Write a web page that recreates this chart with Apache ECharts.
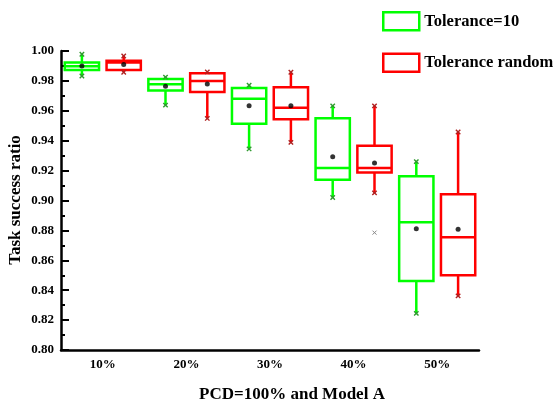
<!DOCTYPE html>
<html>
<head>
<meta charset="utf-8">
<script src="https://cdn.jsdelivr.net/npm/echarts@6/dist/echarts.min.js"></script>
<style>
  html, body { margin: 0; padding: 0; background: #fff; }
  #chart { width: 553px; height: 407px; }
</style>
</head>
<body>
<div id="chart"></div>
<script>
// Group labels on the x axis
const categories = ['10%', '20%', '30%', '40%', '50%'];

// Tolerance=10 box statistics per group
const tol10Min    = [0.9833, 0.9638, 0.9345, 0.9020, 0.8245];
const tol10Q1     = [0.9873, 0.9735, 0.9513, 0.9138, 0.8462];
const tol10Median = [0.9898, 0.9778, 0.9680, 0.9218, 0.8855];
const tol10Q3     = [0.9923, 0.9813, 0.9753, 0.9551, 0.9162];
const tol10Max    = [0.9978, 0.9825, 0.9771, 0.9633, 0.9260];
const tol10Mean   = [0.9900, 0.9765, 0.9633, 0.9293, 0.8811];

// Tolerance random box statistics per group
const tolRandMin    = [0.9858, 0.9549, 0.9389, 0.9051, 0.8362];
const tolRandQ1     = [0.9873, 0.9725, 0.9544, 0.9187, 0.8500];
const tolRandMedian = [0.9923, 0.9800, 0.9620, 0.9218, 0.8755];
const tolRandQ3     = [0.9935, 0.9851, 0.9757, 0.9367, 0.9042];
const tolRandMax    = [0.9967, 0.9860, 0.9858, 0.9633, 0.9458];
const tolRandMean   = [0.9909, 0.9780, 0.9633, 0.9251, 0.8807];

// Outliers of the random-tolerance runs: [group index, value]
const tolRandOutliers = [[3, 0.8785]];

// Y axis ticks
const yMin = 0.80, yMax = 1.00, yStep = 0.02;

const GREEN = '#00ff00';
const RED = '#ff0000';
const FONT = '"Liberation Serif", "Times New Roman", serif';

// Two slots per group: Tolerance=10 on the left, Tolerance random on the right
const slots = [];
categories.forEach(function (c) { slots.push(c + ' A'); slots.push(c + ' B'); });

function boxRows(offset, mins, q1s, meds, q3s, maxs) {
  return categories.map(function (_, i) {
    return [i * 2 + offset, mins[i], q1s[i], meds[i], q3s[i], maxs[i]];
  });
}

// Small "x" mark centred on (cx, cy)
function crossGroup(cx, cy, r, color, width) {
  return {
    type: 'group',
    children: [
      { type: 'line', shape: { x1: cx - r, y1: cy - r, x2: cx + r, y2: cy + r }, style: { stroke: color, lineWidth: width } },
      { type: 'line', shape: { x1: cx + r, y1: cy - r, x2: cx - r, y2: cy + r }, style: { stroke: color, lineWidth: width } }
    ]
  };
}

function makeBoxRenderer(color, markColor) {
  return function (params, api) {
    const x = api.value(0);
    const pMin = api.coord([x, api.value(1)]);
    const pQ1 = api.coord([x, api.value(2)]);
    const pMed = api.coord([x, api.value(3)]);
    const pQ3 = api.coord([x, api.value(4)]);
    const pMax = api.coord([x, api.value(5)]);
    const w = api.size([1, 0])[0] * 0.82;
    const cx = pMed[0];
    const lw = 2.5;
    return {
      type: 'group',
      children: [
        { type: 'line', shape: { x1: cx, y1: pQ3[1], x2: cx, y2: pMax[1] }, style: { stroke: color, lineWidth: lw } },
        { type: 'line', shape: { x1: cx, y1: pQ1[1], x2: cx, y2: pMin[1] }, style: { stroke: color, lineWidth: lw } },
        { type: 'rect', shape: { x: cx - w / 2, y: pQ3[1], width: w, height: pQ1[1] - pQ3[1] },
          style: { fill: '#fff', stroke: color, lineWidth: lw } },
        { type: 'line', shape: { x1: cx - w / 2, y1: pMed[1], x2: cx + w / 2, y2: pMed[1] }, style: { stroke: color, lineWidth: lw } },
        crossGroup(cx, pMax[1], 2.2, markColor, 1.4),
        crossGroup(cx, pMin[1], 2.2, markColor, 1.4)
      ]
    };
  };
}

const chart = echarts.init(document.getElementById('chart'), null, { renderer: 'canvas' });

chart.setOption({
  animation: false,
  backgroundColor: '#fff',
  grid: { left: 61, right: 74, top: 51, bottom: 57, containLabel: false, outerBoundsMode: 'none' },
  legend: {
    orient: 'vertical',
    left: 382,
    top: 11,
    padding: 0,
    itemWidth: 36,
    itemHeight: 18,
    itemGap: 21,
    icon: 'rect',
    textStyle: { fontFamily: FONT, fontWeight: 'bold', fontSize: 16.5, color: '#000' },
    data: [
      { name: 'Tolerance=10', itemStyle: { color: '#fff', borderColor: GREEN, borderWidth: 2.5 } },
      { name: 'Tolerance random', itemStyle: { color: '#fff', borderColor: RED, borderWidth: 2.5 } }
    ]
  },
  xAxis: [
    {
      type: 'category',
      data: slots,
      boundaryGap: true,
      axisLine: { lineStyle: { color: '#000', width: 2.5 } },
      axisTick: { inside: true, alignWithLabel: true, length: 6, lineStyle: { color: '#000', width: 2 } },
      axisLabel: { show: false },
      splitLine: { show: false }
    },
    {
      type: 'category',
      data: categories,
      position: 'bottom',
      boundaryGap: true,
      axisLine: { show: false },
      axisTick: { show: false },
      axisLabel: { margin: 8, fontFamily: FONT, fontWeight: 'bold', fontSize: 13, color: '#000' },
      splitLine: { show: false }
    }
  ],
  yAxis: {
    type: 'value',
    min: yMin,
    max: yMax,
    interval: yStep,
    axisLine: { show: true, lineStyle: { color: '#000', width: 2.5 } },
    axisTick: { show: true, inside: true, length: 8, lineStyle: { color: '#000', width: 2 } },
    minorTick: { show: true, splitNumber: 2, length: 4, lineStyle: { color: '#000', width: 2 } },
    axisLabel: {
      margin: 7,
      fontFamily: FONT, fontWeight: 'bold', fontSize: 13, color: '#000',
      formatter: function (v) { return v.toFixed(2); }
    },
    splitLine: { show: false }
  },
  graphic: [
    {
      // x axis title
      type: 'text',
      x: 292,
      y: 395,
      style: {
        text: 'PCD=100% and Model A',
        textAlign: 'center',
        textVerticalAlign: 'middle',
        font: 'bold 17px ' + FONT,
        fill: '#000'
      }
    },
    {
      // y axis title, rotated
      type: 'text',
      x: 16,
      y: 200,
      rotation: Math.PI / 2,
      style: {
        text: 'Task success ratio',
        textAlign: 'center',
        textVerticalAlign: 'middle',
        font: 'bold 17px ' + FONT,
        fill: '#000'
      }
    }
  ],
  series: [
    {
      name: 'Tolerance=10',
      type: 'custom',
      xAxisIndex: 0,
      itemStyle: { color: '#fff', borderColor: GREEN },
      renderItem: makeBoxRenderer(GREEN, '#2f9a2f'),
      encode: { x: 0, y: [1, 2, 3, 4, 5] },
      data: boxRows(0, tol10Min, tol10Q1, tol10Median, tol10Q3, tol10Max),
      z: 2
    },
    {
      name: 'Tolerance random',
      type: 'custom',
      xAxisIndex: 0,
      itemStyle: { color: '#fff', borderColor: RED },
      renderItem: makeBoxRenderer(RED, '#b02020'),
      encode: { x: 0, y: [1, 2, 3, 4, 5] },
      data: boxRows(1, tolRandMin, tolRandQ1, tolRandMedian, tolRandQ3, tolRandMax),
      z: 2
    },
    {
      name: 'Outliers',
      type: 'custom',
      xAxisIndex: 0,
      renderItem: function (params, api) {
        const p = api.coord([api.value(0), api.value(1)]);
        return crossGroup(p[0], p[1], 2, '#888', 1);
      },
      encode: { x: 0, y: 1 },
      data: tolRandOutliers.map(function (o) { return [o[0] * 2 + 1, o[1]]; }),
      z: 3
    },
    {
      name: 'Mean',
      type: 'scatter',
      xAxisIndex: 0,
      symbol: 'circle',
      symbolSize: 5,
      itemStyle: { color: '#000' },
      data: categories.map(function (_, i) { return [i * 2, tol10Mean[i]]; })
        .concat(categories.map(function (_, i) { return [i * 2 + 1, tolRandMean[i]]; })),
      z: 5
    }
  ]
});
</script>
</body>
</html>
